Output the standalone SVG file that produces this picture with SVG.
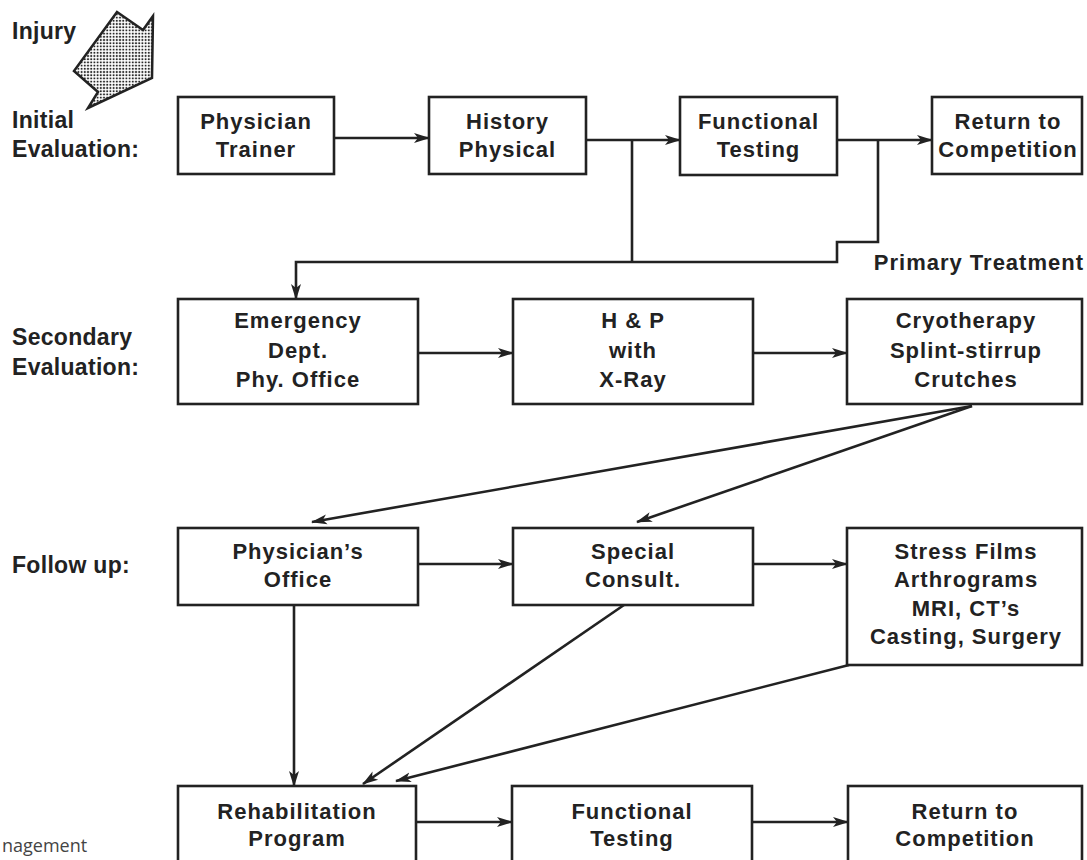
<svg xmlns="http://www.w3.org/2000/svg" width="1087" height="860" viewBox="0 0 1087 860">
<style>
.box{fill:#fff;stroke:#222;stroke-width:2.6}
.t{font-family:"Liberation Sans",Arial,sans-serif;font-weight:bold;font-size:22px;letter-spacing:1px;fill:#222;text-anchor:middle}
.lbl{font-family:"Liberation Sans",Arial,sans-serif;font-weight:bold;font-size:23px;letter-spacing:0.3px;fill:#222}
.c{fill:none;stroke:#222;stroke-width:2.6}
.ca{fill:none;stroke:#222;stroke-width:2.6;marker-end:url(#ah)}
</style>
<defs>
<marker id="ah" markerUnits="userSpaceOnUse" markerWidth="16" markerHeight="12" refX="15" refY="6" orient="auto">
<path d="M0,1 L16,6 L0,11 L4,6 z" fill="#222"/>
</marker>
<pattern id="dots" width="3.2" height="3.2" patternUnits="userSpaceOnUse">
<rect width="3.2" height="3.2" fill="#fff"/>
<circle cx="1.6" cy="1.6" r="1.05" fill="#2a2a2a"/>
</pattern>
</defs>
<rect width="1087" height="860" fill="#fff"/>

<g id="injury">
<text class="lbl" x="12" y="39">Injury</text>
<polygon points="117,12 143,30 153,16 152,78 88,108 98,92 74,71" fill="url(#dots)" stroke="#222" stroke-width="2.5" stroke-linejoin="miter"/>
</g>
<g id="row-labels">
<text class="lbl" x="12" y="128">Initial</text>
<text class="lbl" x="12" y="157">Evaluation:</text>
<text class="lbl" x="12" y="345">Secondary</text>
<text class="lbl" x="12" y="375">Evaluation:</text>
<text class="lbl" x="12" y="573">Follow up:</text>
<text class="t" x="1084" y="270" style="text-anchor:end">Primary Treatment</text>
<text x="2" y="852" font-family="'Open Sans',sans-serif" font-size="18" fill="#444">nagement</text>
</g>

<g id="connectors">
<line class="ca" x1="334" y1="138" x2="429" y2="138"/>
<line class="ca" x1="586" y1="140" x2="680" y2="140"/>
<line class="ca" x1="837" y1="140" x2="932" y2="140"/>
<path class="c" d="M632,140 V262"/>
<path class="ca" d="M878,140 V242 H837 V262 H296 V299"/>
<line class="ca" x1="418" y1="353" x2="513" y2="353"/>
<line class="ca" x1="753" y1="353" x2="847" y2="353"/>
<line class="ca" x1="972" y1="406" x2="312" y2="522"/>
<line class="ca" x1="972" y1="406" x2="637" y2="522"/>
<line class="ca" x1="418" y1="564" x2="513" y2="564"/>
<line class="ca" x1="753" y1="564" x2="847" y2="564"/>
<line class="ca" x1="294" y1="605" x2="294" y2="786"/>
<line class="ca" x1="624" y1="605" x2="363" y2="784"/>
<line class="ca" x1="849" y1="665" x2="396" y2="781"/>
<line class="ca" x1="416" y1="822" x2="512" y2="822"/>
<line class="ca" x1="752" y1="822" x2="848" y2="822"/>
</g>

<g id="physician-trainer">
<rect class="box" x="178" y="97" width="156" height="77"/>
<text class="t" x="256" y="129">Physician</text>
<text class="t" x="256" y="157">Trainer</text>
</g>
<g id="history-physical">
<rect class="box" x="429" y="97" width="157" height="77"/>
<text class="t" x="507.5" y="129">History</text>
<text class="t" x="507.5" y="157">Physical</text>
</g>
<g id="functional-testing-1">
<rect class="box" x="680" y="97" width="157" height="78"/>
<text class="t" x="758.5" y="129">Functional</text>
<text class="t" x="758.5" y="157">Testing</text>
</g>
<g id="return-1">
<rect class="box" x="932" y="97" width="150" height="77"/>
<text class="t" x="1008" y="129">Return to</text>
<text class="t" x="1008" y="157">Competition</text>
</g>

<g id="emergency">
<rect class="box" x="178" y="299" width="240" height="105"/>
<text class="t" x="298" y="328">Emergency</text>
<text class="t" x="298" y="358">Dept.</text>
<text class="t" x="298" y="387">Phy. Office</text>
</g>
<g id="hp-xray">
<rect class="box" x="513" y="299" width="240" height="105"/>
<text class="t" x="633" y="328">H &amp; P</text>
<text class="t" x="633" y="358">with</text>
<text class="t" x="633" y="387">X-Ray</text>
</g>
<g id="cryotherapy">
<rect class="box" x="847" y="299" width="235" height="105"/>
<text class="t" x="966" y="328">Cryotherapy</text>
<text class="t" x="966" y="358">Splint-stirrup</text>
<text class="t" x="966" y="387">Crutches</text>
</g>

<g id="physicians-office">
<rect class="box" x="178" y="528" width="240" height="77"/>
<text class="t" x="298" y="559">Physician’s</text>
<text class="t" x="298" y="587">Office</text>
</g>
<g id="special-consult">
<rect class="box" x="513" y="528" width="240" height="77"/>
<text class="t" x="633" y="559">Special</text>
<text class="t" x="633" y="587">Consult.</text>
</g>
<g id="stress-films">
<rect class="box" x="847" y="528" width="235" height="137"/>
<text class="t" x="966" y="559">Stress Films</text>
<text class="t" x="966" y="587">Arthrograms</text>
<text class="t" x="966" y="616">MRI, CT’s</text>
<text class="t" x="966" y="644">Casting, Surgery</text>
</g>

<g id="rehabilitation">
<rect class="box" x="178" y="786" width="238" height="90"/>
<text class="t" x="297" y="819">Rehabilitation</text>
<text class="t" x="297" y="846">Program</text>
</g>
<g id="functional-testing-2">
<rect class="box" x="512" y="786" width="240" height="90"/>
<text class="t" x="632" y="819">Functional</text>
<text class="t" x="632" y="846">Testing</text>
</g>
<g id="return-2">
<rect class="box" x="848" y="786" width="234" height="90"/>
<text class="t" x="965" y="819">Return to</text>
<text class="t" x="965" y="846">Competition</text>
</g>
</svg>
